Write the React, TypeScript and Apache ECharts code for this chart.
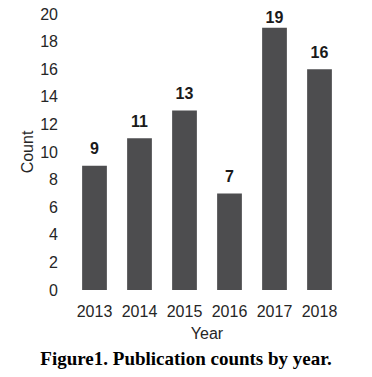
import React, { useEffect, useRef } from "react";
import * as echarts from "echarts";

const years = ["2013", "2014", "2015", "2016", "2017", "2018"];
const counts = [9, 11, 13, 7, 19, 16];
const yTicks = { min: 0, max: 20, interval: 2 };
const caption = "Figure1. Publication counts by year.";

export default function App() {
  const ref = useRef<HTMLDivElement>(null);
  useEffect(() => {
    if (!ref.current) return;
    const chart = echarts.init(ref.current, undefined, { renderer: "svg" });
    const maxVal = Math.max(...counts);
    const barData = counts.map((v) =>
      v === maxVal ? { value: v, label: { distance: 2 } } : v
    );
    chart.setOption({
      animation: false,
      backgroundColor: "#ffffff",
      textStyle: { fontFamily: "Liberation Sans, Arial, sans-serif" },
      title: {
        text: caption,
        left: "center",
        top: 344,
        textStyle: {
          fontFamily: "Liberation Serif, Times New Roman, serif",
          fontWeight: "bold",
          fontSize: 19,
          color: "#000000",
        },
      },
      grid: { left: 72, right: 30, top: 14, bottom: 87 },
      xAxis: {
        type: "category",
        data: years,
        name: "Year",
        nameLocation: "middle",
        nameGap: 35,
        nameMoveOverlap: false,
        nameTextStyle: { fontSize: 16, color: "#262626" },
        axisLine: { show: false },
        axisTick: { show: false },
        axisLabel: { fontSize: 16, color: "#262626", margin: 13, interval: 0 },
      },
      yAxis: {
        type: "value",
        min: yTicks.min,
        max: yTicks.max,
        interval: yTicks.interval,
        name: "Count",
        nameLocation: "middle",
        nameGap: 37,
        nameMoveOverlap: false,
        nameTextStyle: { fontSize: 16, color: "#262626" },
        axisLine: { show: false },
        axisTick: { show: false },
        splitLine: { show: false },
        axisLabel: { fontSize: 16, color: "#262626", margin: 14 },
      },
      series: [
        {
          type: "bar",
          data: barData,
          barWidth: "55%",
          itemStyle: { color: "#4d4d4f" },
          label: {
            show: true,
            position: "top",
            distance: 9,
            fontSize: 16,
            fontWeight: "bold",
            color: "#1a1a1a",
          },
        },
      ],
    });
    return () => chart.dispose();
  }, []);
  return (
    <div
      ref={ref}
      style={{ position: "absolute", left: 0, top: 0, width: 372, height: 377 }}
    />
  );
}
